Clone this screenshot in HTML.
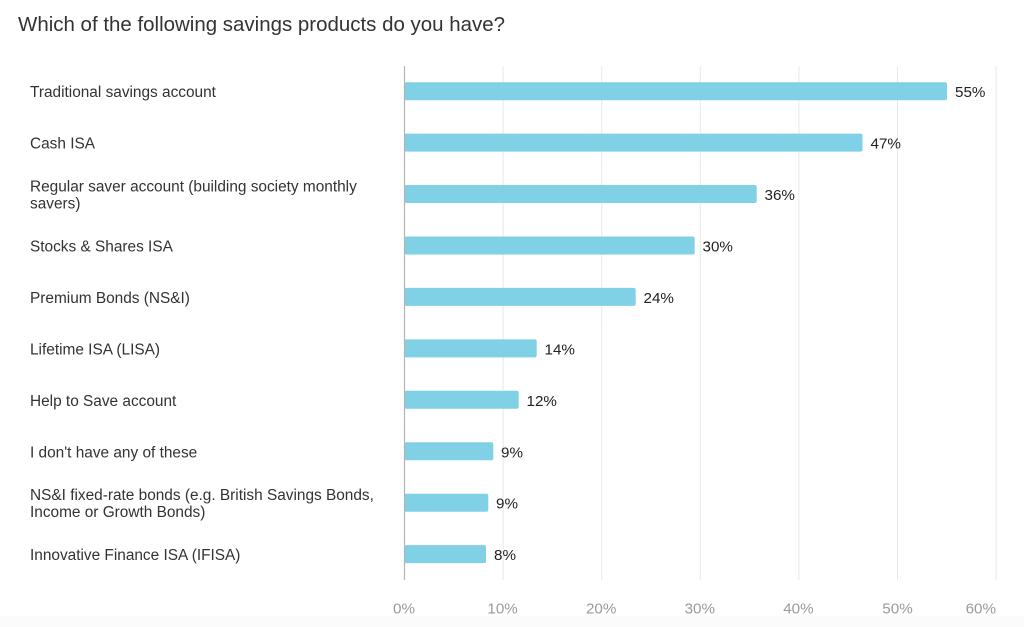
<!DOCTYPE html>
<html>
<head>
<meta charset="utf-8">
<style>
  html, body { margin:0; padding:0; background:#ffffff; }
  body { width:1024px; height:627px; overflow:hidden; }
  svg { display:block; }
  text { font-family: "Liberation Sans", Arial, sans-serif; }
</style>
</head>
<body>
<svg width="1024" height="627" viewBox="0 0 1024 627" xmlns="http://www.w3.org/2000/svg">
  <rect x="0" y="0" width="1024" height="627" fill="#ffffff"/>
  <rect x="0" y="616" width="1024" height="11" fill="#fbfbfb"/>

  <!-- title -->
  <text x="18" y="31" font-size="20.5" fill="#333333" textLength="487" lengthAdjust="spacingAndGlyphs">Which of the following savings products do you have?</text>

  <!-- gridlines -->
  <g stroke="#e4e9ed" stroke-width="1">
    <line x1="503.1" y1="66" x2="503.1" y2="580"/>
    <line x1="601.7" y1="66" x2="601.7" y2="580"/>
    <line x1="700.3" y1="66" x2="700.3" y2="580"/>
    <line x1="798.9" y1="66" x2="798.9" y2="580"/>
    <line x1="897.5" y1="66" x2="897.5" y2="580"/>
    <line x1="996.1" y1="66" x2="996.1" y2="580"/>
  </g>

  <!-- bars -->
  <g fill="#80d0e6">
    <rect x="404.5" y="82.2" width="542.5" height="18" rx="2"/>
    <rect x="404.5" y="133.6" width="458" height="18" rx="2"/>
    <rect x="404.5" y="185.0" width="352.2" height="18" rx="2"/>
    <rect x="404.5" y="236.5" width="290.2" height="18" rx="2"/>
    <rect x="404.5" y="287.9" width="231.2" height="18" rx="2"/>
    <rect x="404.5" y="339.4" width="132.2" height="18" rx="2"/>
    <rect x="404.5" y="390.8" width="114.2" height="18" rx="2"/>
    <rect x="404.5" y="442.3" width="88.8" height="18" rx="2"/>
    <rect x="404.5" y="493.7" width="83.8" height="18" rx="2"/>
    <rect x="404.5" y="545.1" width="81.5" height="18" rx="2"/>
  </g>

  <!-- axis line -->
  <line x1="404.5" y1="66" x2="404.5" y2="580" stroke="#b3b3b3" stroke-width="1.2"/>

  <!-- category labels -->
  <g font-size="15.4" fill="#333333">
    <text x="30" y="97.2">Traditional savings account</text>
    <text x="30" y="148.6">Cash ISA</text>
    <text x="30" y="191.5">Regular saver account (building society monthly</text>
    <text x="30" y="208.5">savers)</text>
    <text x="30" y="251.5">Stocks &amp; Shares ISA</text>
    <text x="30" y="302.9">Premium Bonds (NS&amp;I)</text>
    <text x="30" y="354.4">Lifetime ISA (LISA)</text>
    <text x="30" y="405.8">Help to Save account</text>
    <text x="30" y="457.3">I don't have any of these</text>
    <text x="30" y="500.2">NS&amp;I fixed-rate bonds (e.g. British Savings Bonds,</text>
    <text x="30" y="517.2">Income or Growth Bonds)</text>
    <text x="30" y="560.1">Innovative Finance ISA (IFISA)</text>
  </g>

  <!-- value labels -->
  <g font-size="15.2" fill="#222222">
    <text x="955" y="97.2">55%</text>
    <text x="870.5" y="148.6">47%</text>
    <text x="764.5" y="200.0">36%</text>
    <text x="702.5" y="251.5">30%</text>
    <text x="643.5" y="302.9">24%</text>
    <text x="544.5" y="354.4">14%</text>
    <text x="526.5" y="405.8">12%</text>
    <text x="501" y="457.3">9%</text>
    <text x="496" y="508.7">9%</text>
    <text x="494" y="560.1">8%</text>
  </g>

  <!-- tick labels -->
  <g font-size="15.2" fill="#9a9a9a" text-anchor="middle">
    <text x="404" y="613.5">0%</text>
    <text x="502.6" y="613.5">10%</text>
    <text x="601.2" y="613.5">20%</text>
    <text x="699.8" y="613.5">30%</text>
    <text x="798.4" y="613.5">40%</text>
    <text x="897.5" y="613.5">50%</text>
    <text x="996" y="613.5" text-anchor="end">60%</text>
  </g>
</svg>
</body>
</html>
